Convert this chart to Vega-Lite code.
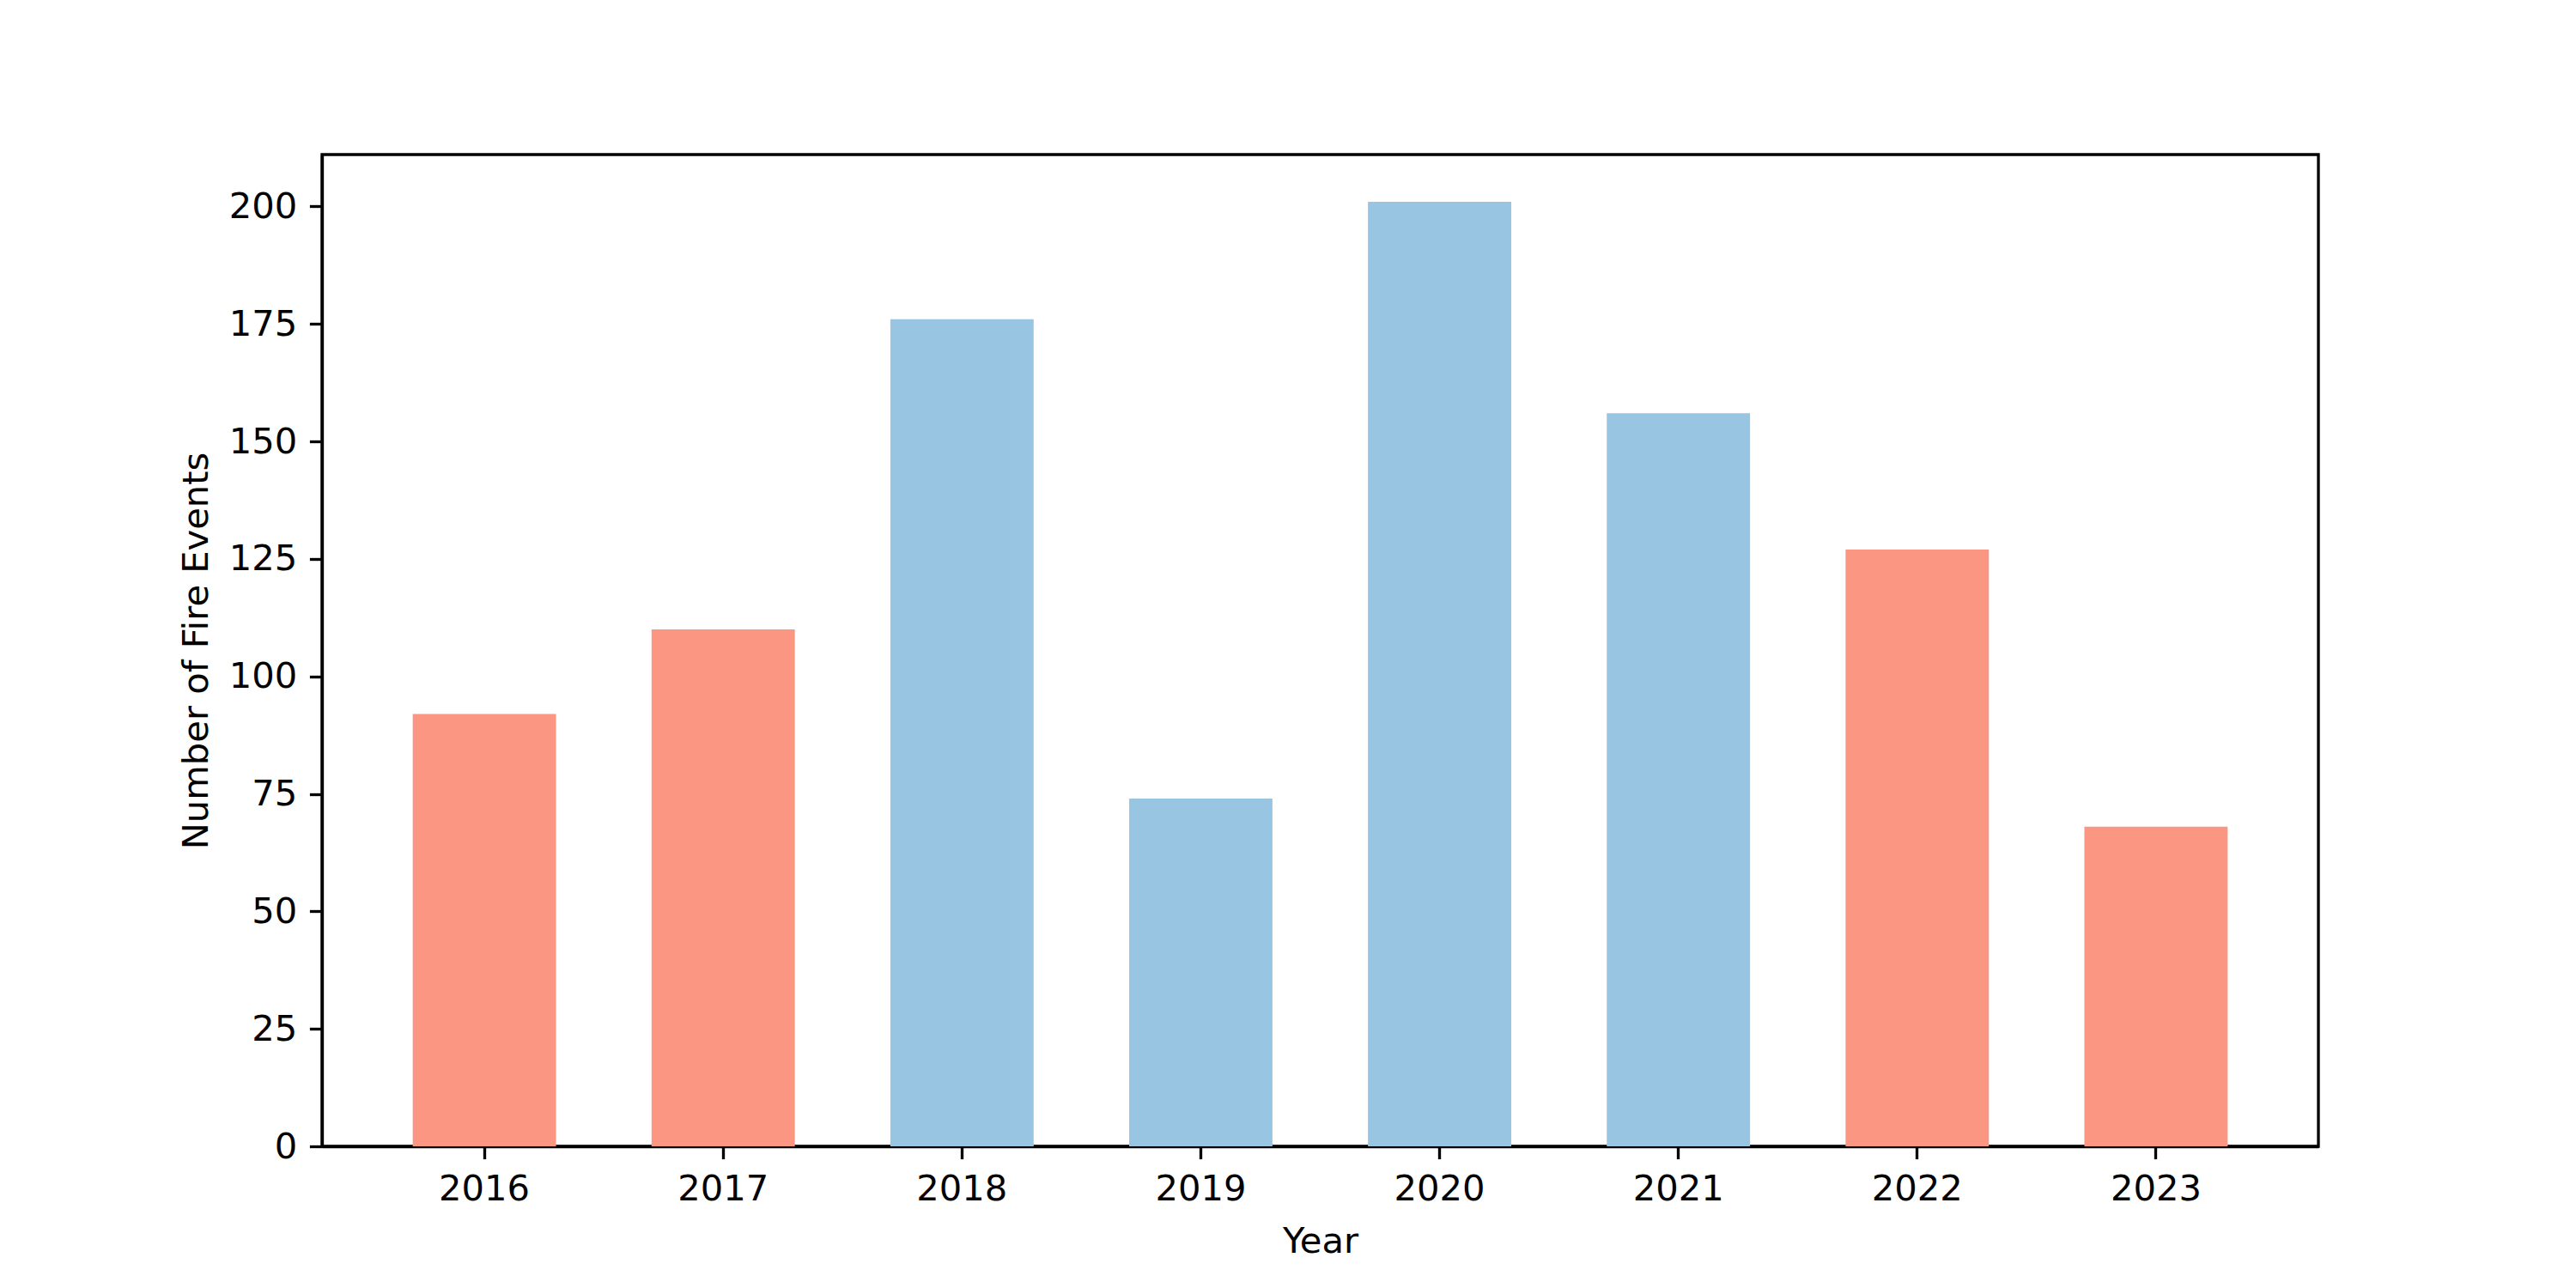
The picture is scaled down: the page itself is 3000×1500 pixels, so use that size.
{
  "$schema": "https://vega.github.io/schema/vega-lite/v6.json",
  "width": 2325,
  "height": 1155,
  "autosize": {"type": "none"},
  "padding": {"left": 375, "top": 180, "right": 300, "bottom": 165},
  "background": "white",
  "data": {
    "values": [
      {"Year": "2016", "Events": 92, "group": "A"},
      {"Year": "2017", "Events": 110, "group": "A"},
      {"Year": "2018", "Events": 176, "group": "B"},
      {"Year": "2019", "Events": 74, "group": "B"},
      {"Year": "2020", "Events": 201, "group": "B"},
      {"Year": "2021", "Events": 156, "group": "B"},
      {"Year": "2022", "Events": 127, "group": "A"},
      {"Year": "2023", "Events": 68, "group": "A"}
    ]
  },
  "mark": {"type": "bar"},
  "encoding": {
    "x": {
      "field": "Year",
      "type": "ordinal",
      "scale": {"paddingInner": 0.4, "paddingOuter": 0.38},
      "axis": {"title": "Year", "labelAngle": 0, "titlePadding": 20}
    },
    "y": {
      "field": "Events",
      "type": "quantitative",
      "scale": {"domain": [0, 211.05], "nice": false, "zero": true},
      "axis": {"title": "Number of Fire Events", "values": [0, 25, 50, 75, 100, 125, 150, 175, 200], "titlePadding": 16}
    },
    "color": {
      "field": "group",
      "type": "nominal",
      "scale": {"domain": ["A", "B"], "range": ["#FA9682", "#98C6E2"]},
      "legend": null
    }
  },
  "config": {
    "font": "DejaVu Sans",
    "view": {"stroke": "black", "strokeWidth": 3.33},
    "axis": {
      "grid": false,
      "domainColor": "black",
      "domainWidth": 3.33,
      "tickColor": "black",
      "tickWidth": 3.33,
      "tickSize": 14.6,
      "labelPadding": 14.6,
      "labelFontSize": 41.67,
      "labelColor": "black",
      "titleFontSize": 41.67,
      "titleFontWeight": "normal",
      "titleColor": "black",
      "labelFont": "DejaVu Sans",
      "titleFont": "DejaVu Sans"
    }
  }
}
